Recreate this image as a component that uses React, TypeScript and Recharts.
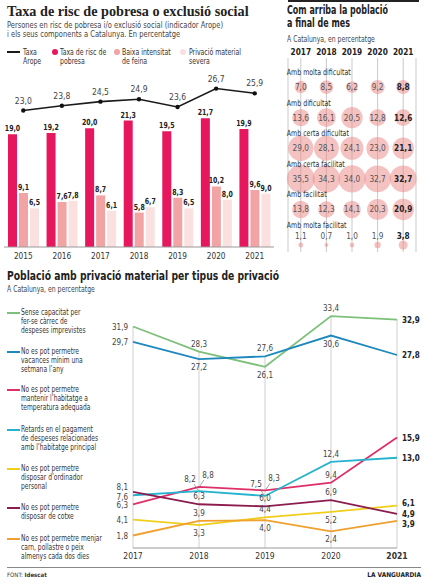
import React from 'react';
import {
  ComposedChart, Bar, Line, LabelList, XAxis, YAxis, ScatterChart, Scatter, CartesianGrid,
  LineChart, ReferenceLine,
} from 'recharts';

// --- Taxa de risc de pobresa o exclusió social
const YEARS_TOP = ['2015', '2016', '2017', '2018', '2019', '2020', '2021'];
const AROPE = [23.0, 23.8, 24.5, 24.9, 23.6, 26.7, 25.9];
const POBRESA = [19.0, 19.2, 20.0, 21.3, 19.5, 21.7, 19.9];
const BAIXA_INTENSITAT = [9.1, 7.6, 8.7, 5.8, 8.3, 10.2, 9.6];
const PRIVACIO_SEVERA = [6.5, 7.8, 6.1, 6.7, 6.5, 8.0, 9.0];

// --- Com arriba la població a final de mes
const MES_YEARS = ['2017', '2018', '2019', '2020', '2021'];
const MES_ROWS = ['Amb molta dificultat', 'Amb dificultat', 'Amb certa dificultat', 'Amb certa facilitat', 'Amb facilitat', 'Amb molta facilitat'];
const MOLTA_DIFICULTAT = [7.0, 8.5, 6.2, 9.2, 8.8];
const DIFICULTAT = [13.6, 16.1, 20.5, 12.8, 12.6];
const CERTA_DIFICULTAT = [29.0, 28.1, 24.1, 23.0, 21.1];
const CERTA_FACILITAT = [35.5, 34.3, 34.0, 32.7, 32.7];
const FACILITAT = [13.8, 12.3, 14.1, 20.3, 20.9];
const MOLTA_FACILITAT = [1.1, 0.7, 1.0, 1.9, 3.8];

// --- Població amb privació material per tipus de privació
const PRIV_YEARS = ['2017', '2018', '2019', '2020', '2021'];
const IMPREVISTES = [31.9, 28.3, 26.1, 33.4, 32.9];
const VACANCES = [29.7, 27.2, 27.6, 30.6, 27.8];
const TEMPERATURA = [6.3, 8.8, 8.3, 9.4, 15.9];
const RETARDS = [7.6, 8.2, 7.5, 12.4, 13.0];
const ORDINADOR = [4.1, 3.3, 4.4, 5.2, 6.1];
const COTXE = [8.1, 6.3, 6.0, 6.9, 4.9];
const CARN = [1.8, 3.9, 4.0, 2.4, 3.9];

const SANS = '"DejaVu Sans Condensed", "DejaVu Sans", sans-serif';
const fmt = (v: number) => v.toFixed(1).replace('.', ',');

const topData = YEARS_TOP.map((y, i) => ({
  year: y, arope: AROPE[i], pobresa: POBRESA[i], baixa: BAIXA_INTENSITAT[i], privacio: PRIVACIO_SEVERA[i],
}));

const MES_VALUES = [MOLTA_DIFICULTAT, DIFICULTAT, CERTA_DIFICULTAT, CERTA_FACILITAT, FACILITAT, MOLTA_FACILITAT];
const mesData = MES_VALUES.flatMap((row, r) => row.map((v, c) => ({ x: c, y: r, v })));
const mesRowData = MES_ROWS.map((name, r) => ({ x: 0, y: r, name }));

// place: label side for 2018-2020; startDy / endDy nudge the 2017 and 2021 labels
const SERIES = [
  { key: 'imprevistes', values: IMPREVISTES, color: '#7dc07b', place: ['a', 'b', 'a'], startDy: 0, endDy: 0, label: ['Sense capacitat per', 'fer-se càrrec de', 'despeses imprevistes'] },
  { key: 'vacances', values: VACANCES, color: '#1d88bd', place: ['b', 'a', 'b'], startDy: 0, endDy: 0, label: ['No es pot permetre', 'vacances mínim una', 'setmana l\u2019any'] },
  { key: 'temperatura', values: TEMPERATURA, color: '#df2f69', place: ['ur', 'ur', 'a'], startDy: 1, endDy: 0, label: ['No es pot permetre', 'mantenir l\u2019habitatge a', 'temperatura adequada'] },
  { key: 'retards', values: RETARDS, color: '#26b3cf', place: ['ul', 'ul', 'a'], startDy: 2, endDy: 0, label: ['Retards en el pagament', 'de despeses relacionades', 'amb l\u2019habitatge principal'] },
  { key: 'ordinador', values: ORDINADOR, color: '#f0cf1c', place: ['b', 'a', 'b'], startDy: 0, endDy: -3, label: ['No es pot permetre', 'disposar d\u2019ordinador', 'personal'] },
  { key: 'cotxe', values: COTXE, color: '#8c1c4e', place: ['a', 'a', 'a'], startDy: -5, endDy: 0, label: ['No es pot permetre', 'disposar de cotxe'] },
  { key: 'carn', values: CARN, color: '#f0a02e', place: ['a', 'b', 'b'], startDy: 0, endDy: 3, label: ['No es pot permetre menjar', 'carn, pollastre o peix', 'almenys cada dos dies'] },
];
const LEGEND_TOPS = [308, 347, 385, 425, 464, 503, 534];

const privData = PRIV_YEARS.map((y, i) => {
  const row: Record<string, string | number> = { year: y };
  SERIES.forEach((s) => { row[s.key] = s.values[i]; });
  return row;
});
const yearMax = PRIV_YEARS.map((_, i) => Math.max(...SERIES.map((s) => s.values[i])));

function privLabel(s: typeof SERIES[number]) {
  return (props: any) => {
    const { x, y, value, index } = props;
    const base = { fontSize: 8, fontFamily: SANS, fill: '#444' };
    if (index === 0) return <text x={x - 5} y={y + 3 + s.startDy} textAnchor="end" {...base}>{fmt(value)}</text>;
    if (index === 4) return <text x={x + 5} y={y + 3 + s.endDy} textAnchor="start" {...base} fill="#222" fontWeight="bold">{fmt(value)}</text>;
    const p = s.place[index - 1];
    if (p === 'a') return <text x={x} y={y - 5} textAnchor="middle" {...base}>{fmt(value)}</text>;
    if (p === 'b') return <text x={x} y={y + 11} textAnchor="middle" {...base}>{fmt(value)}</text>;
    const dir = p === 'ur' ? 1 : -1;
    return (
      <g>
        <line x1={x + dir * 1} y1={y - 1} x2={x + dir * 5} y2={y - 7} stroke="#666" strokeWidth={0.6} />
        <text x={x + dir * 9} y={y - 9} textAnchor="middle" {...base}>{fmt(value)}</text>
      </g>
    );
  };
}

// bold bar value, slightly condensed so neighbouring labels don't collide
const BarValue = (props: any) => {
  const { x, y, width, value } = props;
  return (
    <g transform={`translate(${x + width / 2}, ${y - 3}) scale(0.84, 1)`}>
      <text x={0} y={0} textAnchor="middle" fontSize={8.3} fontFamily={SANS} fontWeight="bold" fill="#222">{fmt(value)}</text>
    </g>
  );
};

const Bubble = (props: any) => {
  const { cx, cy, payload } = props;
  const r = 2.35 * Math.sqrt(payload.v);
  const dy = payload.y === 5 ? 5 : 0;
  return <circle cx={cx} cy={cy + dy} r={r} fill="#eb8585" fillOpacity={0.5} />;
};

const BubbleText = (props: any) => {
  const { cx, cy, payload } = props;
  const last = payload.x === 4;
  const dy = payload.y === 5 ? -1 : 3;
  return (
    <text x={cx} y={cy + dy} textAnchor="middle" fontSize={8.2} fontFamily={SANS}
      fill={last ? '#222' : '#555'} fontWeight={last ? 'bold' : 'normal'}>{fmt(payload.v)}</text>
  );
};

const RowName = (props: any) => (
  <g transform={`translate(${props.cx - 14}, ${props.cy - 12}) scale(0.82, 1)`}>
    <text x={0} y={0} fontSize={8.5} fontFamily={SANS} fill="#333">{props.payload.name}</text>
  </g>
);

const PrivTick = (props: any) => {
  const { x, y, payload } = props;
  const last = payload.value === PRIV_YEARS[PRIV_YEARS.length - 1];
  return <text x={x} y={y + 3} textAnchor="middle" fontSize={8.5} fontFamily={SANS} fill="#333" fontWeight={last ? 'bold' : 'normal'}>{payload.value}</text>;
};

const abs = (left: number, top: number, extra: React.CSSProperties = {}): React.CSSProperties => ({ position: 'absolute', left, top, ...extra });
const txt = (size: number, sx: number, extra: React.CSSProperties = {}): React.CSSProperties => ({
  fontFamily: SANS, fontSize: size, lineHeight: '8.8px', color: '#333', whiteSpace: 'nowrap',
  transform: `scaleX(${sx})`, transformOrigin: 'left top', ...extra,
});

export default function App() {
  return (
    <div style={{ position: 'absolute', left: 0, top: 0, width: 428, height: 586, background: '#fff', overflow: 'hidden' }}>
      {/* left top */}
      <div style={abs(7, 3, { fontFamily: '"Liberation Serif", serif', fontWeight: 'bold', fontSize: 14.2, lineHeight: '16px', color: '#222', whiteSpace: 'nowrap' })}>
        Taxa de risc de pobresa o exclusió social
      </div>
      <div style={abs(7, 21, txt(8.5, 0.88, { color: '#444' }))}>
        Persones en risc de pobresa i/o exclusió social (indicador Arope)<br />i els seus components a Catalunya. En percentatge
      </div>
      <div style={abs(7, 51, { width: 13, height: 2, background: '#1a1a1a' })} />
      <div style={abs(23, 48, txt(8.3, 0.83))}>Taxa<br />Arope</div>
      <div style={abs(52, 49, { width: 6, height: 6, borderRadius: 3, background: '#e6175c' })} />
      <div style={abs(60, 48, txt(8.3, 0.83))}>Taxa de risc de<br />pobresa</div>
      <div style={abs(114, 49, { width: 6, height: 6, borderRadius: 3, background: '#f2a3a3' })} />
      <div style={abs(122, 48, txt(8.3, 0.83))}>Baixa intensitat<br />de feina</div>
      <div style={abs(180, 49, { width: 6, height: 6, borderRadius: 3, background: '#fbe0e0' })} />
      <div style={abs(189, 48, txt(8.3, 0.83))}>Privació material<br />severa</div>

      <div style={abs(0, 60)}>
        <ComposedChart width={278} height={207} data={topData} margin={{ top: 9, right: 4, left: 4, bottom: 0 }}
          barCategoryGap={4} barGap={2}>
          <XAxis dataKey="year" height={20} axisLine={{ stroke: '#999' }} tickLine={false} tickSize={4}
            tick={{ fontSize: 8.2, fontFamily: SANS, fill: '#333' }} />
          <YAxis hide domain={[0, 30]} />
          <Bar dataKey="pobresa" fill="#e6175c" isAnimationActive={false}>
            <LabelList dataKey="pobresa" content={BarValue} />
          </Bar>
          <Bar dataKey="baixa" fill="#f2a3a3" isAnimationActive={false}>
            <LabelList dataKey="baixa" content={BarValue} />
          </Bar>
          <Bar dataKey="privacio" fill="#fbe0e0" isAnimationActive={false}>
            <LabelList dataKey="privacio" content={BarValue} />
          </Bar>
          <Line dataKey="arope" type="linear" stroke="#1a1a1a" strokeWidth={1.6} isAnimationActive={false}
            dot={{ r: 2.2, fill: '#111', stroke: 'none' }}>
            <LabelList dataKey="arope" position="top" offset={7} formatter={(v: any) => fmt(v)}
              style={{ fontSize: 8.5, fontFamily: SANS, fill: '#444' }} />
          </Line>
        </ComposedChart>
      </div>

      {/* right top */}
      <div style={abs(288, 0, { width: 131, height: 2, background: '#222' })} />
      <div style={abs(287, 4, txt(11.5, 0.77, { fontWeight: 'bold', lineHeight: '13px', color: '#222' }))}>
        Com arriba la població
      </div>
      <div style={abs(287, 17, txt(11.5, 0.77, { fontWeight: 'bold', lineHeight: '13px', color: '#222' }))}>
        a final de mes
      </div>
      <div style={abs(287, 35, txt(8.5, 0.8, { color: '#444' }))}>A Catalunya, en percentatge</div>
      <div style={abs(285, 40)}>
        <ScatterChart width={143} height={212} margin={{ top: 5, right: 12, left: 3, bottom: 0 }}>
          <CartesianGrid horizontal={false} stroke="#c9c9c9" />
          <XAxis type="number" dataKey="x" orientation="top" domain={[-0.5, 4.5]} ticks={[0, 1, 2, 3, 4]} interval={0}
            height={13} axisLine={false} tickLine={false} tickSize={0} tickMargin={3}
            tickFormatter={(i: number) => MES_YEARS[i]}
            tick={{ fontSize: 8.2, fontFamily: SANS, fontWeight: 'bold', fill: '#222' }} />
          <YAxis type="number" dataKey="y" reversed domain={[-0.95, 5.39]} hide />
          <Scatter data={mesData} shape={<Bubble />} isAnimationActive={false} />
          <Scatter data={mesData} shape={<BubbleText />} isAnimationActive={false} />
          <Scatter data={mesRowData} shape={<RowName />} isAnimationActive={false} />
        </ScatterChart>
      </div>

      {/* bottom */}
      <div style={abs(7, 269, txt(12.5, 0.82, { fontWeight: 'bold', lineHeight: '14px', color: '#222' }))}>
        Població amb privació material per tipus de privació
      </div>
      <div style={abs(7, 285, txt(8.5, 0.8, { color: '#444' }))}>A Catalunya, en percentatge</div>
      {SERIES.map((s, i) => (
        <React.Fragment key={s.key}>
          <div style={abs(7, LEGEND_TOPS[i] + 3.5, { width: 13, height: 2, background: s.color })} />
          <div style={abs(21, LEGEND_TOPS[i], txt(8.3, 0.8))}>
            {s.label.map((t, j) => <div key={j}>{t}</div>)}
          </div>
        </React.Fragment>
      ))}
      <div style={abs(0, 295)}>
        <LineChart width={428} height={267} data={privData} margin={{ top: 10, right: 31, left: 133, bottom: 0 }}>
          <XAxis dataKey="year" height={14} axisLine={{ stroke: '#999' }} tickLine={false} interval={0} tick={<PrivTick />} />
          <YAxis hide domain={[0, 35]} />
          {PRIV_YEARS.map((y, i) => (
            <ReferenceLine key={y} segment={[{ x: y, y: yearMax[i] }, { x: y, y: 0 }]} stroke="#cfcfcf" />
          ))}
          {SERIES.map((s) => (
            <Line key={s.key} dataKey={s.key} type="linear" stroke={s.color} strokeWidth={1.8} dot={false} isAnimationActive={false}>
              <LabelList dataKey={s.key} content={privLabel(s)} />
            </Line>
          ))}
        </LineChart>
      </div>

      <div style={abs(7, 567, { width: 414, height: 1, background: '#888' })} />
      <div style={abs(7, 571, { fontFamily: SANS, fontSize: 6, color: '#333' })}>FONT: <b>Idescat</b></div>
      <div style={abs(300, 571, { width: 121, textAlign: 'right', fontFamily: SANS, fontSize: 6.5, fontWeight: 'bold', color: '#222' })}>LA VANGUARDIA</div>
    </div>
  );
}
